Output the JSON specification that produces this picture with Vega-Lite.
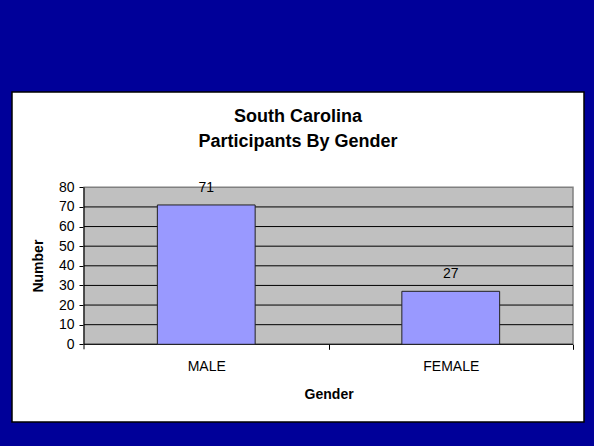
{
  "$schema": "https://vega.github.io/schema/vega-lite/v6.json",
  "width": 572,
  "height": 330,
  "autosize": {"type": "none"},
  "padding": {"left": 12, "top": 92, "right": 10, "bottom": 24},
  "background": "#000099",
  "config": {
    "view": {"fill": "white", "stroke": "black", "strokeWidth": 1.5},
    "font": "Liberation Sans"
  },
  "title": {
    "text": ["South Carolina", "Participants By Gender"],
    "fontSize": 18,
    "fontWeight": "bold",
    "font": "Liberation Sans",
    "lineHeight": 25,
    "anchor": "middle",
    "frame": "group",
    "baseline": "top",
    "offset": -58.7,
    "color": "black"
  },
  "datasets": {
    "grid": [{"v": 10}, {"v": 20}, {"v": 30}, {"v": 40}, {"v": 50}, {"v": 60}, {"v": 70}],
    "one": [{"k": 1}]
  },
  "data": {"values": [{"gender": "MALE", "count": 71}, {"gender": "FEMALE", "count": 27}]},
  "layer": [
    {
      "data": {"name": "one"},
      "mark": {"type": "rect", "fill": "#C0C0C0", "stroke": "#808080", "strokeWidth": 1.5},
      "encoding": {
        "x": {"datum": "MALE", "type": "nominal", "bandPosition": -0.75},
        "x2": {"datum": "FEMALE", "bandPosition": 1.75},
        "y": {"datum": 0, "type": "quantitative"},
        "y2": {"datum": 80}
      }
    },
    {
      "data": {"name": "grid"},
      "mark": {"type": "rule", "color": "black", "strokeWidth": 1},
      "encoding": {
        "x": {"datum": "MALE", "type": "nominal", "bandPosition": -0.75},
        "x2": {"datum": "FEMALE", "bandPosition": 1.75},
        "y": {"field": "v", "type": "quantitative"}
      }
    },
    {
      "data": {"name": "one"},
      "mark": {"type": "rule", "color": "black", "strokeWidth": 1},
      "encoding": {
        "x": {"datum": "MALE", "type": "nominal", "bandPosition": -0.75},
        "y": {"datum": -2.55, "type": "quantitative"},
        "y2": {"datum": 80}
      }
    },
    {
      "data": {"name": "one"},
      "mark": {"type": "rule", "color": "black", "strokeWidth": 1},
      "encoding": {
        "x": {"datum": "MALE", "type": "nominal", "bandPosition": -0.75},
        "x2": {"datum": "FEMALE", "bandPosition": 1.75},
        "y": {"datum": 0, "type": "quantitative"}
      }
    },
    {
      "mark": {"type": "bar", "fill": "#9999FF", "stroke": "#222222", "strokeWidth": 1},
      "encoding": {
        "x": {
          "field": "gender",
          "type": "nominal",
          "sort": null,
          "scale": {"domain": ["MALE", "FEMALE"], "paddingInner": 0.6, "paddingOuter": 0.46974, "align": 0.63278, "round": false},
          "axis": {
            "offset": -77.7,
            "domain": false,
            "tickBand": "center",
            "tickOffset": 122.25,
            "labelOffset": -122.25,
            "tickSize": 5,
            "tickColor": "black",
            "labelAngle": 0,
            "labelAlign": "center",
            "labelFontSize": 14,
            "labelColor": "black",
            "labelPadding": 17,
            "title": "Gender",
            "titleFontSize": 14,
            "titleFontWeight": "bold",
            "titleColor": "black",
            "titleX": 316.6,
            "titleY": 50.5,
            "titleBaseline": "middle"
          }
        },
        "y": {
          "field": "count",
          "type": "quantitative",
          "scale": {"domain": [-39.59, 128.56], "nice": false, "zero": false},
          "axis": {
            "values": [0, 10, 20, 30, 40, 50, 60, 70, 80],
            "offset": -72,
            "domain": false,
            "grid": false,
            "tickSize": 5,
            "tickColor": "black",
            "labelFontSize": 14,
            "labelColor": "black",
            "labelPadding": 5,
            "title": "Number",
            "titleFontSize": 14,
            "titleFontWeight": "bold",
            "titleColor": "black",
            "titleX": -45.2,
            "titleY": 173.6,
            "titleBaseline": "middle"
          }
        },
        "y2": {"datum": 0}
      }
    },
    {
      "mark": {"type": "text", "dy": -17, "baseline": "middle", "fontSize": 14, "color": "black"},
      "encoding": {
        "x": {"field": "gender", "type": "nominal", "sort": null},
        "y": {"field": "count", "type": "quantitative"},
        "text": {"field": "count", "type": "quantitative"}
      }
    }
  ]
}
